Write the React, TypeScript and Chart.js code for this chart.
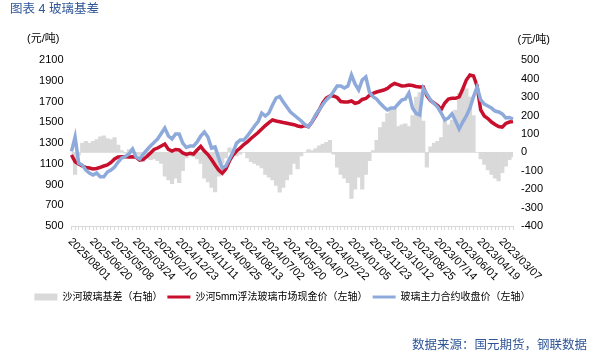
import React, { useEffect, useRef } from 'react';
import { Chart, registerables } from 'chart.js';

Chart.register(...registerables);

// x-axis tick labels (left to right, newest first)
const tickLabels = [
  '2025/08/01', '2025/06/20', '2025/05/08', '2025/03/24', '2025/02/10', '2024/12/23',
  '2024/11/11', '2024/09/25', '2024/08/13', '2024/07/02', '2024/05/20', '2024/04/07',
  '2024/02/22', '2024/01/05', '2023/11/23', '2023/10/12', '2023/08/25', '2023/07/14',
  '2023/06/01', '2023/04/19', '2023/03/07',
];
const POINTS_PER_LABEL = 6;

// 沙河5mm浮法玻璃市场现金价 (left axis)
const spotPrice = [
  1186, 1121, 1099, 1079, 1065, 1060, 1050, 1055, 1067, 1079,
  1089, 1113, 1147, 1166, 1169, 1169, 1166, 1169, 1163, 1137,
  1144, 1171, 1205, 1239, 1253, 1272, 1292, 1239, 1224, 1239,
  1234, 1205, 1192, 1202, 1195, 1234, 1268, 1224, 1190, 1142,
  1089, 1041, 1009, 1050, 1128, 1186, 1224, 1253, 1287, 1311,
  1345, 1374, 1403, 1437, 1470, 1499, 1524, 1514, 1507, 1499,
  1492, 1485, 1478, 1466, 1459, 1470, 1459, 1504, 1562, 1620,
  1688, 1736, 1755, 1755, 1741, 1702, 1697, 1697, 1707, 1685,
  1693, 1722, 1731, 1760, 1781, 1794, 1804, 1813, 1828, 1857,
  1876, 1866, 1852, 1855, 1862, 1857, 1847, 1842, 1842, 1760,
  1712, 1688, 1664, 1625, 1688, 1726, 1733, 1733, 1746, 1823,
  1910, 1958, 1949, 1852, 1620, 1562, 1538, 1504, 1480, 1461,
  1454, 1490, 1504, 1509,
];

// 玻璃主力合约收盘价 (left axis)
const futuresPrice = [
  1220, 1360, 1108, 1089, 1041, 1012, 992, 1012, 976, 975,
  1021, 1041, 1070, 1118, 1157, 1171, 1195, 1243, 1166, 1147,
  1195, 1234, 1272, 1306, 1340, 1393, 1446, 1369, 1340, 1388,
  1388, 1301, 1258, 1272, 1272, 1311, 1369, 1408, 1359, 1253,
  1263, 1157, 1060, 1079, 1147, 1215, 1301, 1330, 1330, 1369,
  1417, 1466, 1509, 1591, 1562, 1591, 1668, 1736, 1751, 1697,
  1649, 1601, 1572, 1543, 1514, 1480, 1459, 1504, 1572, 1620,
  1673, 1717, 1749, 1799, 1852, 1852, 1833, 1852, 1958, 1871,
  1813, 1910, 1939, 1794, 1749, 1726, 1685, 1649, 1620, 1639,
  1639, 1678, 1717, 1726, 1784, 1639, 1588, 1572, 1828, 1775,
  1717, 1683, 1649, 1591, 1524, 1543, 1582, 1514, 1437, 1504,
  1562, 1639, 1749, 1842, 1717, 1678, 1659, 1639, 1610, 1601,
  1582, 1543, 1548, 1533,
];

// 沙河玻璃基差 (right axis)
const basis = [
  -20, -120, -15, 50, 60, 50, 60, 70, 85, 90,
  75, 70, 80, 40, 10, -5, 15, 20, -10, -15,
  -50, -30, -40, -35, -45, -60, -130, -150, -170, -140,
  -165, -100, -30, -20, -25, -35, -60, -140, -160, -190,
  -215, -130, -60, -30, 25, 15, -20, -10, 0, -30,
  -50, -60, -70, -85, -120, -135, -150, -180, -216, -190,
  -150, -120, -60, -90, -20, 0, 15, 10, 20, 35,
  45, 55, 65, -10, -80, -120, -140, -165, -250, -200,
  -135, -200, -120, -45, 10, 65, 135, 165, 210, 235,
  245, 140, 150, 155, 140, 200, 300, 325, 170, -80,
  30, 50, 60, 80, 170, 150, 175, 230, 320, 350,
  345, 300, 200, 0, -35, -65, -95, -120, -140, -155,
  -110, -75, -40, -25,
];

const FONT = '"Liberation Sans", "Noto Sans CJK SC", sans-serif';
const GRAY = '#d9d9d9';
const RED = '#c8102e';
const BLUE = '#8eaadb';
const TITLE_BLUE = '#2f5597';

const categories = spotPrice.map((_, i) =>
  i % POINTS_PER_LABEL === 0 && tickLabels[i / POINTS_PER_LABEL] ? tickLabels[i / POINTS_PER_LABEL] : ''
);

const xLabelPlugin = {
  id: 'rotatedXLabels',
  afterDraw(chart: any) {
    const xs = chart.scales.x;
    const ctx = chart.ctx;
    ctx.save();
    ctx.font = '11px ' + FONT;
    ctx.fillStyle = '#000';
    ctx.textAlign = 'left';
    ctx.textBaseline = 'middle';
    tickLabels.forEach((t, k) => {
      const x = xs.getPixelForValue(k * POINTS_PER_LABEL);
      ctx.save();
      ctx.translate(x - 1.7, xs.top + 13.8);
      ctx.rotate(Math.PI / 4);
      ctx.fillText(t, 0, 0);
      ctx.restore();
    });
    ctx.restore();
  },
};

export default function App() {
  const ref = useRef<HTMLCanvasElement>(null);

  useEffect(() => {
    Chart.defaults.font.family = FONT;
    Chart.defaults.color = '#000';
    const chart = new Chart(ref.current as HTMLCanvasElement, {
      type: 'bar',
      data: {
        labels: categories,
        datasets: [
          {
            type: 'bar',
            label: '沙河玻璃基差（右轴）',
            data: basis,
            yAxisID: 'y1',
            backgroundColor: GRAY,
            borderWidth: 0,
            barPercentage: 1,
            categoryPercentage: 1,
            order: 3,
          },
          {
            type: 'line',
            label: '沙河5mm浮法玻璃市场现金价（左轴）',
            data: spotPrice,
            yAxisID: 'y',
            borderColor: RED,
            backgroundColor: RED,
            borderWidth: 3.5,
            pointRadius: 0,
            tension: 0,
            order: 2,
          },
          {
            type: 'line',
            label: '玻璃主力合约收盘价（左轴）',
            data: futuresPrice,
            yAxisID: 'y',
            borderColor: BLUE,
            backgroundColor: BLUE,
            borderWidth: 3.5,
            pointRadius: 0,
            tension: 0,
            order: 1,
          },
        ] as any,
      },
      options: {
        responsive: false,
        animation: false,
        layout: { padding: { top: 60.3, left: 0, right: 28, bottom: 43 } },
        plugins: {
          tooltip: { enabled: false },
          legend: {
            position: 'bottom',
            labels: {
              usePointStyle: true,
              pointStyleWidth: 23,
              boxHeight: 7,
              padding: 5,
              color: '#000',
              font: { size: 10, family: FONT },
              sort: (a: any, b: any) => a.datasetIndex - b.datasetIndex,
              generateLabels: (ch: any) => {
                const items = (Chart.defaults.plugins.legend.labels as any).generateLabels(ch);
                return items.map((it: any) => {
                  const isBar = it.datasetIndex === 0;
                  const c = isBar ? GRAY : it.datasetIndex === 1 ? RED : BLUE;
                  return {
                    ...it,
                    pointStyle: isBar ? 'rect' : 'line',
                    fillStyle: c,
                    strokeStyle: c,
                    lineWidth: isBar ? 0 : 3,
                  };
                });
              },
            },
          },
        },
        scales: {
          x: {
            type: 'category',
            offset: false,
            grid: {
              display: true,
              drawOnChartArea: false,
              drawTicks: true,
              tickLength: 4,
              color: GRAY,
              offset: false,
            },
            border: { display: true, color: GRAY },
            ticks: { display: false, autoSkip: false },
            afterFit: (s: any) => {
              s.height = 61;
            },
          },
          y: {
            position: 'left',
            min: 500,
            max: 2100,
            ticks: {
              stepSize: 200,
              color: '#000',
              font: { size: 11 },
              padding: 8,
              callback: (v: any) => String(v),
            },
            grid: { display: false, drawTicks: false },
            border: { display: false },
            afterFit: (s: any) => {
              s.width = 71.5;
            },
          },
          y1: {
            position: 'right',
            min: -400,
            max: 500,
            ticks: {
              stepSize: 100,
              color: '#000',
              font: { size: 11 },
              padding: 8,
              callback: (v: any) => String(v),
            },
            grid: { display: false, drawTicks: false },
            border: { display: false },
            afterFit: (s: any) => {
              s.width = 52;
            },
          },
        },
      } as any,
      plugins: [xLabelPlugin],
    });
    return () => chart.destroy();
  }, []);

  const abs = (left: number, top: number, size: number, color: string): React.CSSProperties => ({
    position: 'absolute',
    left,
    top,
    fontSize: size,
    lineHeight: '16px',
    color,
    whiteSpace: 'nowrap',
    fontFamily: FONT,
  });

  return (
    <div style={{ position: 'absolute', left: 0, top: 0, width: 593, height: 355, background: '#fff', overflow: 'hidden' }}>
      <canvas ref={ref} width={593} height={355} style={{ position: 'absolute', left: 0, top: 0 }} />
      <div style={abs(10, 1, 12.5, TITLE_BLUE)}>图表 4 玻璃基差</div>
      <div style={abs(27, 30, 11, '#000')}>(元/吨)</div>
      <div style={abs(517.5, 31, 11, '#000')}>(元/吨)</div>
      <div style={abs(412, 337, 12.5, TITLE_BLUE)}>数据来源：国元期货，钢联数据</div>
    </div>
  );
}
